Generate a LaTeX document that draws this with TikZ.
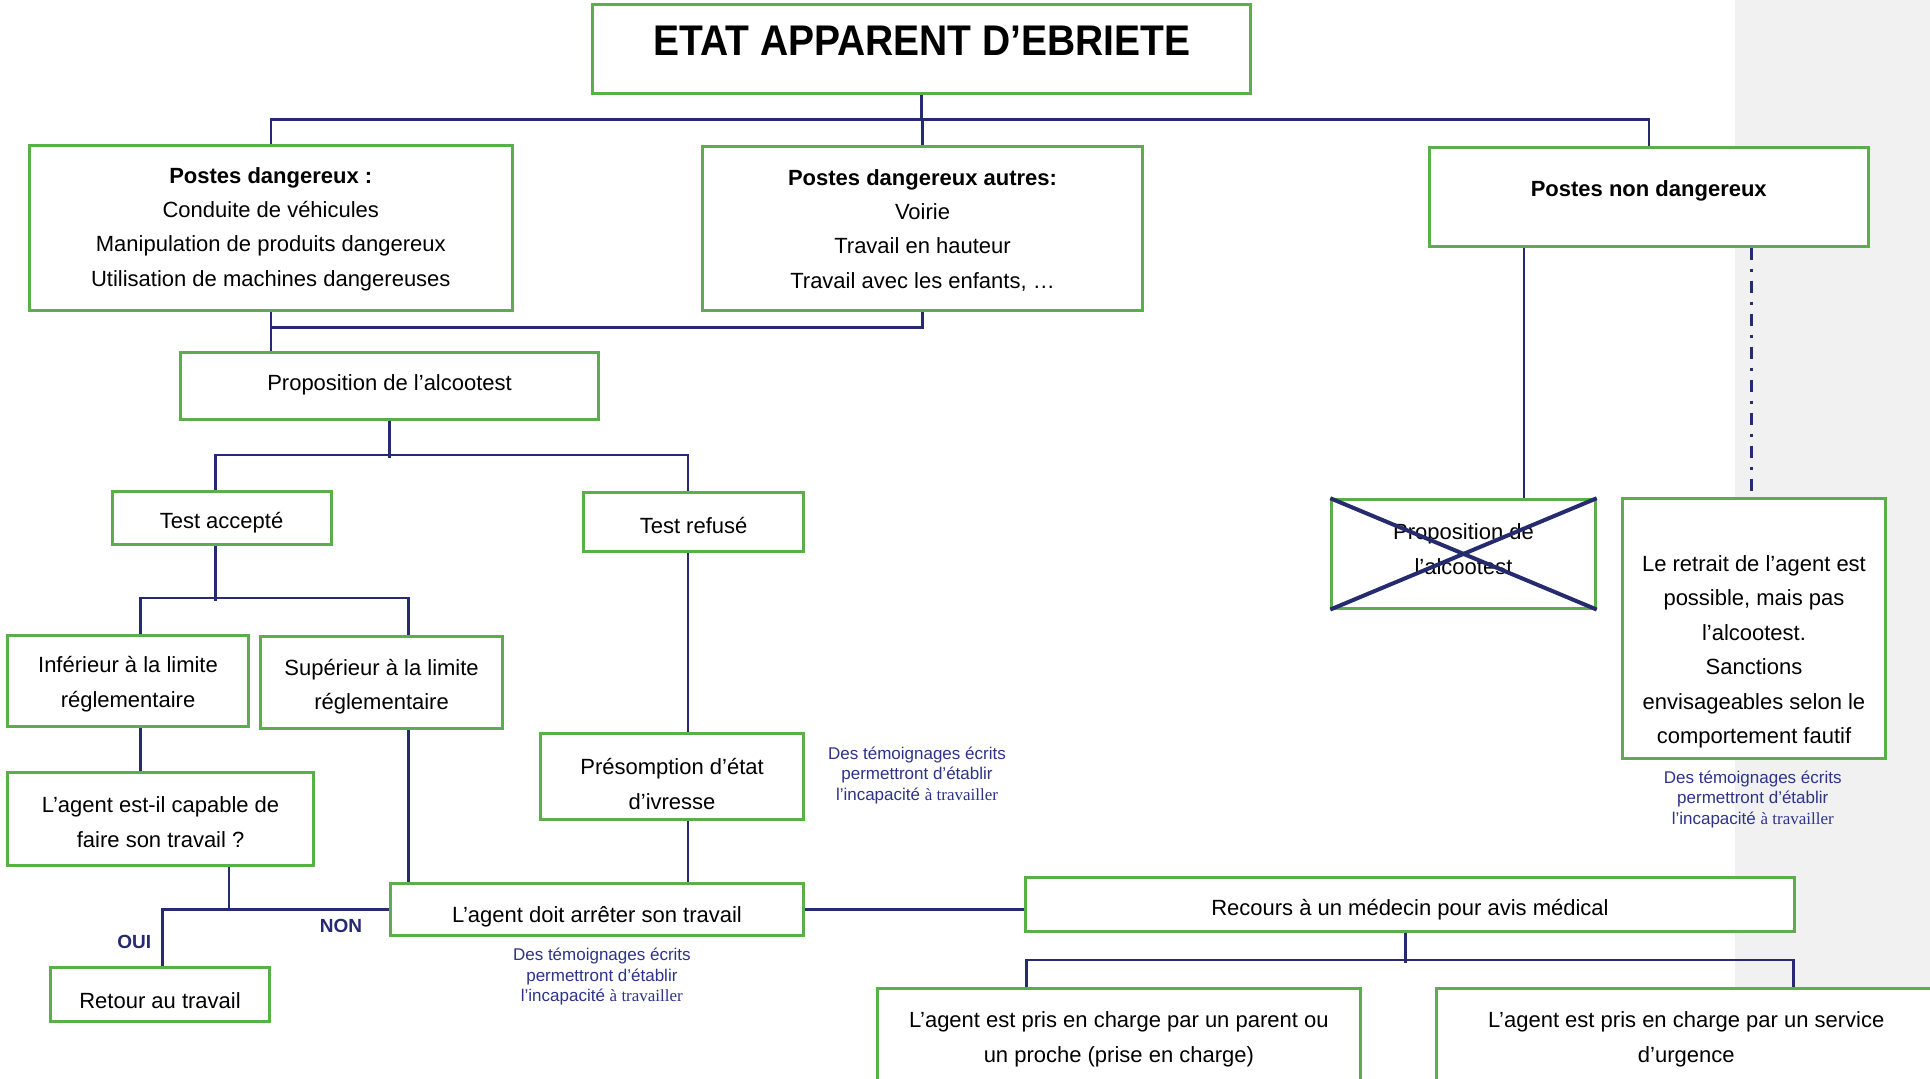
\documentclass[tikz,border=0pt]{standalone}
\usepackage{graphicx}
\usepackage{fontspec}
\setmainfont{Liberation Sans}
\newfontfamily\serifnote{Liberation Serif}
\usetikzlibrary{fit,calc}
\definecolor{boxgreen}{HTML}{5BAF4A}
\definecolor{navy}{HTML}{262A6E}
\definecolor{notecol}{HTML}{2E3388}
\definecolor{greybg}{HTML}{F1F1F1}
\tikzset{
  box/.style={draw=boxgreen, line width=1.5pt, fill=white, inner sep=0pt},
  txt/.style={align=center, font=\fontsize{11}{17.2}\selectfont, inner sep=0pt},
  btxt/.style={align=center, font=\fontsize{11}{17.2}\selectfont\bfseries, inner sep=0pt},
  conn/.style={draw=navy, line width=1.25pt},
  dashdotline/.style={draw=navy, line width=1.5pt, dash pattern=on 6pt off 4.5pt on 1.5pt off 4.5pt},
  crossline/.style={draw=navy, line width=2pt},
  note/.style={align=center, text=notecol, font=\fontsize{8.5}{10.2}\selectfont, inner sep=0pt},
  yn/.style={text=navy, font=\fontsize{9.5}{11}\selectfont\bfseries, inner sep=0pt},
}
\newcommand{\atrav}{{\serifnote à travailler}}
\begin{document}
\begin{tikzpicture}[x=0.6155pt, y=-0.6155pt]
\useasboundingbox (0,0) rectangle (1568,876);
\clip (0,0) rectangle (1568,876);
\fill[white] (0,0) rectangle (1568,876);
\fill[greybg] (1409.5,0) rectangle (1568,876);

% boxes
\node[box, fit={(481,4) (1016,76)}] (title) {};
\node[font=\fontsize{19.5}{22}\selectfont\bfseries, inner sep=0pt] (title-t) at (749,33) {\scalebox{1}[1.1]{ETAT APPARENT D’EBRIETE}};

\node[box, fit={(24,118) (416,252)}] (pd) {};
\node[txt] (pd-t) at (220,186) {\textbf{Postes dangereux :}\\Conduite de véhicules\\Manipulation de produits dangereux\\Utilisation de machines dangereuses};

\node[box, fit={(571,119) (928,252)}] (pda) {};
\node[txt] (pda-t) at (749.5,187) {\textbf{Postes dangereux autres:}\\Voirie\\Travail en hauteur\\Travail avec les enfants, …};

\node[box, fit={(1161,120) (1518,200)}] (pnd) {};
\node[btxt] (pnd-t) at (1339.5,155) {Postes non dangereux};

\node[box, fit={(147,286) (486,341)}] (prop) {};
\node[txt] (prop-t) at (316.5,313) {Proposition de l’alcootest};

\node[box, fit={(91,399) (269,442)}] (ta) {};
\node[txt] (ta-t) at (180,425) {Test accepté};

\node[box, fit={(474,400) (653,448)}] (tr) {};
\node[txt] (tr-t) at (563.5,427) {Test refusé};

\node[box, fit={(6,516) (202,590)}] (inf) {};
\node[txt] (inf-t) at (104,556) {Inférieur à la limite\\réglementaire};

\node[box, fit={(212,517) (408,592)}] (sup) {};
\node[txt] (sup-t) at (310,558) {Supérieur à la limite\\réglementaire};

\node[box, fit={(6,628) (255,703)}] (cap) {};
\node[txt] (cap-t) at (130.5,668) {L’agent est-il capable de\\faire son travail ?};

\node[box, fit={(439,596) (653,666)}] (pres) {};
\node[txt] (pres-t) at (546,637) {Présomption d’état\\d’ivresse};

\node[box, fit={(317,718) (653,760)}] (arr) {};
\node[txt] (arr-t) at (485,745) {L’agent doit arrêter son travail};

\node[box, fit={(41,786) (219,830)}] (ret) {};
\node[txt] (ret-t) at (130,813) {Retour au travail};

\node[box, fit={(833,713) (1458,757)}] (rec) {};
\node[txt] (rec-t) at (1145.5,739) {Recours à un médecin pour avis médical};

\node[box, fit={(713,803) (1105,890)}] (par) {};
\node[txt] (par-t) at (909,844.5) {L’agent est pris en charge par un parent ou\\un proche (prise en charge)};

\node[box, fit={(1167,803) (1580,890)}] (urg) {};
\node[txt] (urg-t) at (1370,844.5) {L’agent est pris en charge par un service\\d’urgence};

\node[box, fit={(1082,406) (1296,494)}] (cross) {};
\node[txt] (cross-t) at (1189,446) {Proposition de\\l’alcootest};

\node[box, fit={(1318,405) (1532,616)}] (ret2) {};
\node[txt] (ret2-t) at (1425,529.5) {Le retrait de l’agent est\\possible, mais pas\\l’alcootest.\\Sanctions\\envisageables selon le\\comportement fautif};

% notes
\node[note] (n1) at (745,630) {Des témoignages écrits\\permettront d’établir\\l’incapacité \atrav};
\node[note] (n2) at (489,793.5) {Des témoignages écrits\\permettront d’établir\\l’incapacité \atrav};
\node[note] (n3) at (1424,649.5) {Des témoignages écrits\\permettront d’établir\\l’incapacité \atrav};

\node[yn] (oui) at (109,765) {OUI};
\node[yn] (non) at (277,752) {NON};

% connectors
\coordinate (b1) at (0,97);
\draw[conn] (title.south) -- (title.south |- b1);
\draw[conn] (pd.north) -- (pd.north |- b1) -- (pnd.north |- b1) -- (pnd.north);
\draw[conn] (pda.north) -- (pda.north |- b1);

\coordinate (b2) at (0,266);
\draw[conn] (pd.south) -- (pd.south |- b2) -- (pda.south |- b2) -- (pda.south);
\draw[conn] (pd.south |- b2) -- (pd.south |- prop.north);

\draw[conn] (prop.south) -- ++(0,30);
\coordinate (v-ta) at ($(ta.north)+(-5,0)$);
\coordinate (v-tr) at ($(tr.north)+(-4.5,0)$);
\draw[conn] (v-ta) |- ($(v-tr)+(0,-29)$) -- (v-tr);

\coordinate (v-tas) at ($(ta.south)+(-5,0)$);
\draw[conn] (v-tas) -- ++(0,45);
\coordinate (v-inf) at ($(inf.north)+(10,0)$);
\coordinate (v-sup) at ($(sup.north)+(22,0)$);
\draw[conn] (v-inf) |- ($(v-sup)+(0,-30)$) -- (v-sup);

\coordinate (v-infs) at ($(inf.south)+(10,0)$);
\draw[conn] (v-infs) -- (v-infs |- cap.north);

\coordinate (v-cap) at ($(cap.south)+(55.5,0)$);
\draw[conn] (v-cap) -- (v-cap |- arr.west);
\coordinate (v-ret) at ($(ret.north)+(2,0)$);
\draw[conn] (v-ret) |- (arr.west);

\coordinate (v-sups) at ($(sup.south)+(22,0)$);
\draw[conn] (v-sups) -- (v-sups |- arr.north);

\coordinate (v-trs) at ($(tr.south)+(-4.5,0)$);
\draw[conn] (v-trs) -- (v-trs |- pres.north);

\coordinate (v-pres) at ($(pres.south)+(13,0)$);
\draw[conn] (v-pres) -- (v-pres |- arr.north);

\draw[conn] (arr.east) -- (arr.east -| rec.west);

\coordinate (v-rec) at ($(rec.south)+(-3.5,0)$);
\draw[conn] (v-rec) -- ++(0,24);
\coordinate (v-par) at ($(par.north)+(-75,0)$);
\coordinate (v-urg) at ($(urg.north)+(83.5,0)$);
\draw[conn] (v-par) -- ($(v-par)+(0,-22)$) -| (v-urg);

\coordinate (v-pnd) at ($(pnd.south)+(-101.5,0)$);
\draw[conn] (v-pnd) -- (v-pnd |- cross.north);
\coordinate (v-pnd2) at ($(pnd.south)+(83.5,0)$);
\draw[dashdotline] (v-pnd2) -- (v-pnd2 |- ret2.north);

\draw[crossline] (cross.north west) -- (cross.south east);
\draw[crossline] (cross.south west) -- (cross.north east);
\end{tikzpicture}
\end{document}
